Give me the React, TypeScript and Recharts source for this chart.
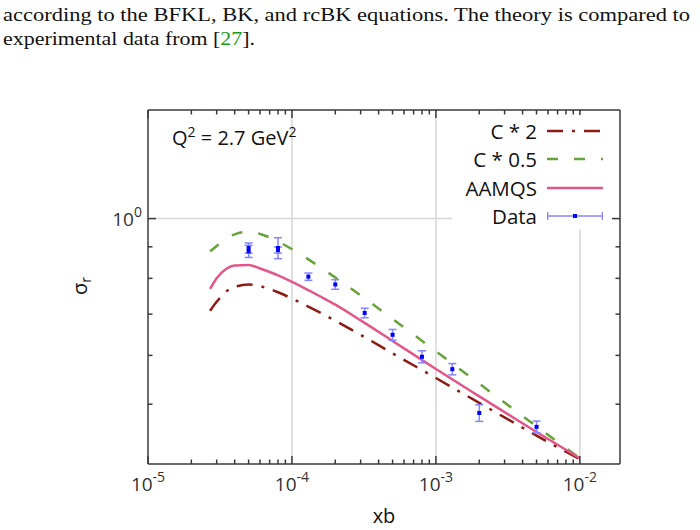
import React from 'react';
import { ComposedChart, Line, Scatter, XAxis, YAxis, ErrorBar, ReferenceLine, Legend } from 'recharts';

const SANS = '"Open Sans", "Noto Sans", sans-serif';
const SERIF = '"Liberation Serif", "DejaVu Serif", serif';
const AXIS_COLOR = '#3a3a3a';
const TEXT_COLOR = '#333333';
const GRID_COLOR = '#d6d6d6';
const RED = '#8c1c13';
const GREEN = '#66a33a';
const PINK = '#e0588a';
const BLUE = '#0000ff';
const ERR_BLUE = '#8585ff';

// theory curves
const xb = [2.7e-5, 3e-5, 3.5e-5, 4e-5, 5e-5, 6e-5, 7e-5, 8e-5, 1e-4, 1.3e-4, 1.6e-4, 2e-4, 3e-4, 5e-4, 1e-3, 2e-3, 5e-3, 1e-2];
const aamqs = [0.769, 0.8, 0.829, 0.839, 0.841, 0.83, 0.8193, 0.8089, 0.7897, 0.7655, 0.7462, 0.7252, 0.6839, 0.6333, 0.5702, 0.515, 0.4508, 0.4086];
const cTimes2 = [0.709, 0.733, 0.762, 0.775, 0.782, 0.777, 0.7687, 0.7595, 0.7418, 0.7198, 0.7021, 0.6828, 0.6478, 0.6047, 0.5514, 0.5025, 0.4448, 0.4071];
const cTimes05 = [0.885, 0.903, 0.929, 0.943, 0.952, 0.9443, 0.9319, 0.9184, 0.892, 0.8589, 0.8316, 0.8025, 0.7507, 0.6875, 0.6094, 0.54, 0.4604, 0.4088];

// experimental data
const dataX = [5e-5, 5e-5, 8e-5, 8e-5, 1.3e-4, 2e-4, 3.2e-4, 5e-4, 8e-4, 1.3e-3, 2e-3, 5e-3];
const dataY = [0.896, 0.885, 0.896, 0.889, 0.805, 0.782, 0.703, 0.648, 0.597, 0.57, 0.484, 0.4595];
const dataErr = [0.017, 0.02, 0.035, 0.01, 0.011, 0.014, 0.0125, 0.013, 0.0135, 0.012, 0.015, 0.01];

// ticks
const xMajorTicks = [1e-5, 1e-4, 1e-3, 1e-2];
const xMajorLabels = ['-5', '-4', '-3', '-2'];
const xMinorMultipliers = [2, 3, 4, 5, 6, 7, 8, 9];
const yMinorTicks = [0.5, 0.6, 0.7, 0.8, 0.9];
const yMajorTicks = [1];
const yMajorLabels = ['0'];

const xTicks = [
  ...xMajorTicks,
  ...xMajorTicks.slice(0, 3).flatMap((d) => xMinorMultipliers.map((k) => d * k)),
];
const yTicks = [...yMinorTicks, ...yMajorTicks];

const curveRows = xb.map((x, i) => ({ x, aamqs: aamqs[i], c2: cTimes2[i], c05: cTimes05[i] }));
const pointRows = dataX.map((x, i) => ({ x, y: dataY[i], err: dataErr[i] }));

const legendItems = [
  { label: 'C * 2', color: RED, dash: '16 9 3 9', kind: 'line' },
  { label: 'C * 0.5', color: GREEN, dash: '11 16', kind: 'line' },
  { label: 'AAMQS', color: PINK, dash: undefined, kind: 'line' },
  { label: 'Data', color: BLUE, dash: undefined, kind: 'data' },
];

function majorIndex(list: number[], v: number) {
  return list.findIndex((m) => Math.abs(m - v) / m < 1e-6);
}

const MAJOR_LEN = 8;
const MINOR_LEN = 4.5;

const BottomTick = (props: any) => {
  const { x, y, payload } = props;
  const idx = majorIndex(xMajorTicks, payload.value);
  const len = idx >= 0 ? MAJOR_LEN : MINOR_LEN;
  return (
    <g>
      <line x1={x} y1={y} x2={x} y2={y - len} stroke={AXIS_COLOR} strokeWidth={1.5} />
      {idx >= 0 && (
        <text x={x} y={y + 27} textAnchor="middle" fontFamily={SANS} fontSize={19} fill={TEXT_COLOR}>
          10<tspan dy={-9} fontSize={14}>{xMajorLabels[idx]}</tspan>
        </text>
      )}
    </g>
  );
};

const TopTick = (props: any) => {
  const { x, y, payload } = props;
  const idx = majorIndex(xMajorTicks, payload.value);
  const len = idx >= 0 ? MAJOR_LEN : MINOR_LEN;
  return <line x1={x} y1={y} x2={x} y2={y + len} stroke={AXIS_COLOR} strokeWidth={1.5} />;
};

const LeftTick = (props: any) => {
  const { x, y, payload } = props;
  const idx = majorIndex(yMajorTicks, payload.value);
  const len = idx >= 0 ? MAJOR_LEN : MINOR_LEN;
  return (
    <g>
      <line x1={x} y1={y} x2={x + len} y2={y} stroke={AXIS_COLOR} strokeWidth={1.5} />
      {idx >= 0 && (
        <text x={x - 6} y={y + 7} textAnchor="end" fontFamily={SANS} fontSize={19} fill={TEXT_COLOR}>
          10<tspan dy={-9} fontSize={14}>{yMajorLabels[idx]}</tspan>
        </text>
      )}
    </g>
  );
};

const RightTick = (props: any) => {
  const { x, y, payload } = props;
  const idx = majorIndex(yMajorTicks, payload.value);
  const len = idx >= 0 ? MAJOR_LEN : MINOR_LEN;
  return <line x1={x} y1={y} x2={x - len} y2={y} stroke={AXIS_COLOR} strokeWidth={1.5} />;
};

const XTitle = (props: any) => {
  const vb = props.viewBox || {};
  return (
    <text x={vb.x + vb.width / 2} y={vb.y + 59} textAnchor="middle" fontFamily={SANS} fontSize={20} fill="#111">
      xb
    </text>
  );
};

const YTitle = (props: any) => {
  const vb = props.viewBox || {};
  const cx = 87;
  const cy = vb.y + vb.height / 2 - 1;
  return (
    <text x={cx} y={cy} transform={`rotate(-90, ${cx}, ${cy})`} textAnchor="middle" fontFamily={SANS} fontSize={20} fill="#111">
      σ<tspan dy={4} fontSize={14}>r</tspan>
    </text>
  );
};

const renderPoint = (props: any) => {
  const { cx, cy } = props;
  return <rect x={cx - 2} y={cy - 2} width={4} height={4} fill={BLUE} />;
};

const LegendBox = () => (
  <div style={{ position: 'relative', width: 160, height: 114, background: '#fff' }}>
    {legendItems.map((it, i) => {
      const top = 16 + i * 28.45 - 14;
      return (
        <div key={it.label} style={{ position: 'absolute', left: 0, top, width: 160, height: 28, display: 'flex', alignItems: 'center' }}>
          <span style={{ width: 85, textAlign: 'right', fontFamily: SANS, fontSize: 20.5, color: '#111', lineHeight: '28px', whiteSpace: 'nowrap' }}>
            {it.label}
          </span>
          <svg width={60} height={28} style={{ marginLeft: 10, display: 'block' }}>
            {it.kind === 'line' ? (
              <line x1={0} y1={14} x2={56} y2={14} stroke={it.color} strokeWidth={2.5} strokeDasharray={it.dash} />
            ) : (
              <g>
                <line x1={0} y1={14} x2={56} y2={14} stroke={ERR_BLUE} strokeWidth={1.3} />
                <line x1={0.7} y1={10} x2={0.7} y2={18} stroke={ERR_BLUE} strokeWidth={1.3} />
                <line x1={55.3} y1={10} x2={55.3} y2={18} stroke={ERR_BLUE} strokeWidth={1.3} />
                <rect x={26} y={12} width={4} height={4} fill={BLUE} />
              </g>
            )}
          </svg>
        </div>
      );
    })}
  </div>
);

export default function App() {
  return (
    <div style={{ position: 'absolute', left: 0, top: 0, width: 700, height: 530, background: '#fff' }}>
      <ComposedChart width={700} height={530} data={curveRows} margin={{ top: 109, right: 79, bottom: 0, left: 0 }}>
        <XAxis
          xAxisId="b"
          dataKey="x"
          type="number"
          scale="log"
          domain={[1e-5, 0.019]}
          allowDataOverflow
          ticks={xTicks}
          interval={0}
          tickSize={0}
          tickMargin={0}
          tickLine={false}
          tick={BottomTick}
          axisLine={{ stroke: AXIS_COLOR, strokeWidth: 1.5 }}
          height={66}
          orientation="bottom"
          label={XTitle}
        />
        <XAxis
          xAxisId="t"
          dataKey="x"
          type="number"
          scale="log"
          domain={[1e-5, 0.019]}
          allowDataOverflow
          ticks={xTicks}
          interval={0}
          tickSize={0}
          tickMargin={0}
          tickLine={false}
          tick={TopTick}
          axisLine={{ stroke: AXIS_COLOR, strokeWidth: 1.5 }}
          height={1}
          orientation="top"
        />
        <YAxis
          yAxisId="l"
          type="number"
          scale="log"
          domain={[0.4, 1.5]}
          allowDataOverflow
          ticks={yTicks}
          interval={0}
          tickSize={0}
          tickMargin={0}
          tickLine={false}
          tick={LeftTick}
          axisLine={{ stroke: AXIS_COLOR, strokeWidth: 1.5 }}
          width={148}
          orientation="left"
          label={YTitle}
        />
        <YAxis
          yAxisId="r"
          type="number"
          scale="log"
          domain={[0.4, 1.5]}
          allowDataOverflow
          ticks={yTicks}
          interval={0}
          tickSize={0}
          tickMargin={0}
          tickLine={false}
          tick={RightTick}
          axisLine={{ stroke: AXIS_COLOR, strokeWidth: 1.5 }}
          width={1}
          orientation="right"
        />
        {xMajorTicks.slice(1).map((v) => (
          <ReferenceLine key={'gx' + v} xAxisId="b" yAxisId="l" x={v} stroke={GRID_COLOR} strokeWidth={1.5} />
        ))}
        {yMajorTicks.map((v) => (
          <ReferenceLine key={'gy' + v} xAxisId="b" yAxisId="l" y={v} stroke={GRID_COLOR} strokeWidth={1.5} />
        ))}
        <Line xAxisId="b" yAxisId="l" type="monotone" dataKey="c2" stroke={RED} strokeWidth={2.5} strokeDasharray="16 9 3 9" dot={false} activeDot={false} isAnimationActive={false} />
        <Line xAxisId="b" yAxisId="l" type="monotone" dataKey="c05" stroke={GREEN} strokeWidth={2.5} strokeDasharray="11 16" dot={false} activeDot={false} isAnimationActive={false} />
        <Line xAxisId="b" yAxisId="l" type="monotone" dataKey="aamqs" stroke={PINK} strokeWidth={2.5} dot={false} activeDot={false} isAnimationActive={false} />
        <Scatter xAxisId="b" yAxisId="l" data={pointRows} dataKey="y" shape={renderPoint} isAnimationActive={false}>
          <ErrorBar dataKey="err" direction="y" width={4} stroke={ERR_BLUE} strokeWidth={1.5} isAnimationActive={false} />
        </Scatter>
        <Legend
          layout="horizontal"
          verticalAlign="middle"
          align="center"
          content={LegendBox}
          wrapperStyle={{ position: 'absolute', left: 452, top: 115, width: 160, height: 114 }}
        />
      </ComposedChart>
      <svg width={700} height={530} style={{ position: 'absolute', left: 0, top: 0, pointerEvents: 'none' }}>
        <text x={3} y={21} fontFamily={SERIF} fontSize={18} fill="#111" textLength={687} lengthAdjust="spacingAndGlyphs">
          according to the BFKL, BK, and rcBK equations. The theory is compared to
        </text>
        <text x={3} y={45} fontFamily={SERIF} fontSize={18} fill="#111" textLength={252} lengthAdjust="spacingAndGlyphs">
          experimental data from [<tspan fill="#1a9a1a">27</tspan>].
        </text>
        <text x={172} y={145} fontFamily={SANS} fontSize={20} fill="#111">
          Q<tspan dy={-8} fontSize={14}>2</tspan>
          <tspan dy={8}> = 2.7 GeV</tspan>
          <tspan dy={-8} fontSize={14}>2</tspan>
        </text>
      </svg>
    </div>
  );
}
